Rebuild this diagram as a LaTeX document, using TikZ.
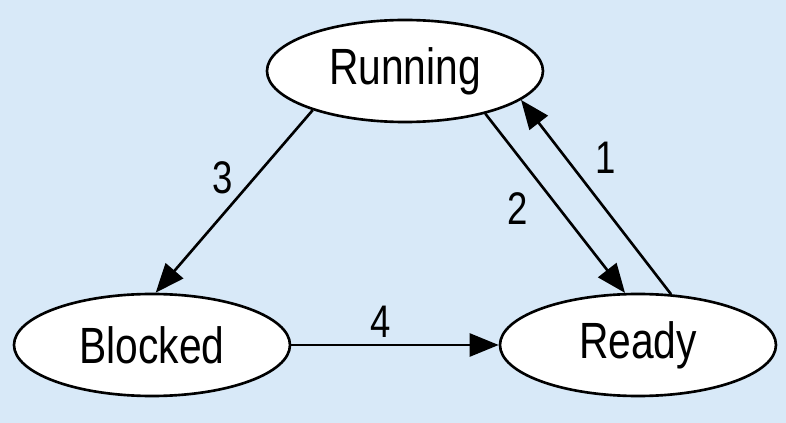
\documentclass[tikz,border=0pt]{standalone}
\usepackage{fontspec}
\setmainfont[FakeStretch=0.8]{Liberation Sans}
\usetikzlibrary{shapes.geometric, positioning, arrows.meta}
\definecolor{panelblue}{RGB}{216,233,248}

\begin{document}
\begin{tikzpicture}[node distance=5cm,on grid,>={Triangle[length=0.58cm,width=0.46cm]},
	proc/.style={ellipse, draw, line width=1.5pt, fill=white, minimum width=5.52cm, minimum height=2.04cm, inner sep=0pt, font=\fontsize{29}{31}\selectfont},
	num/.style={inner sep=0pt, font=\fontsize{26}{28}\selectfont}]

% Background panel
	\fill[panelblue] (-8.1,1.42) rectangle (7.62,-7.04);

% State nodes
	\node (running)	[proc]										{Running};
	\node (blocked)	[proc, below left=5.48cm and 5.06cm of running]	{Blocked};
	\node (ready)	[proc, right=9.72cm of blocked]				{Ready};

% Transitions
	\path[->, line width=1.5pt]
		(running.-157)	edge node[num, pos=0.37, left=0.4cm] {3} (blocked.86)
		(running.-28.6)	edge node[num, pos=0.53, left=0.6cm] {2} (ready.104.6)
		(ready.57.4)	edge node[num, pos=0.70, right=0.56cm] {1} (running.-14.8)
		(blocked.east)	edge node[num, pos=0.43, above=0.12cm] {4} (ready.west)
	;

\end{tikzpicture}
\end{document}
